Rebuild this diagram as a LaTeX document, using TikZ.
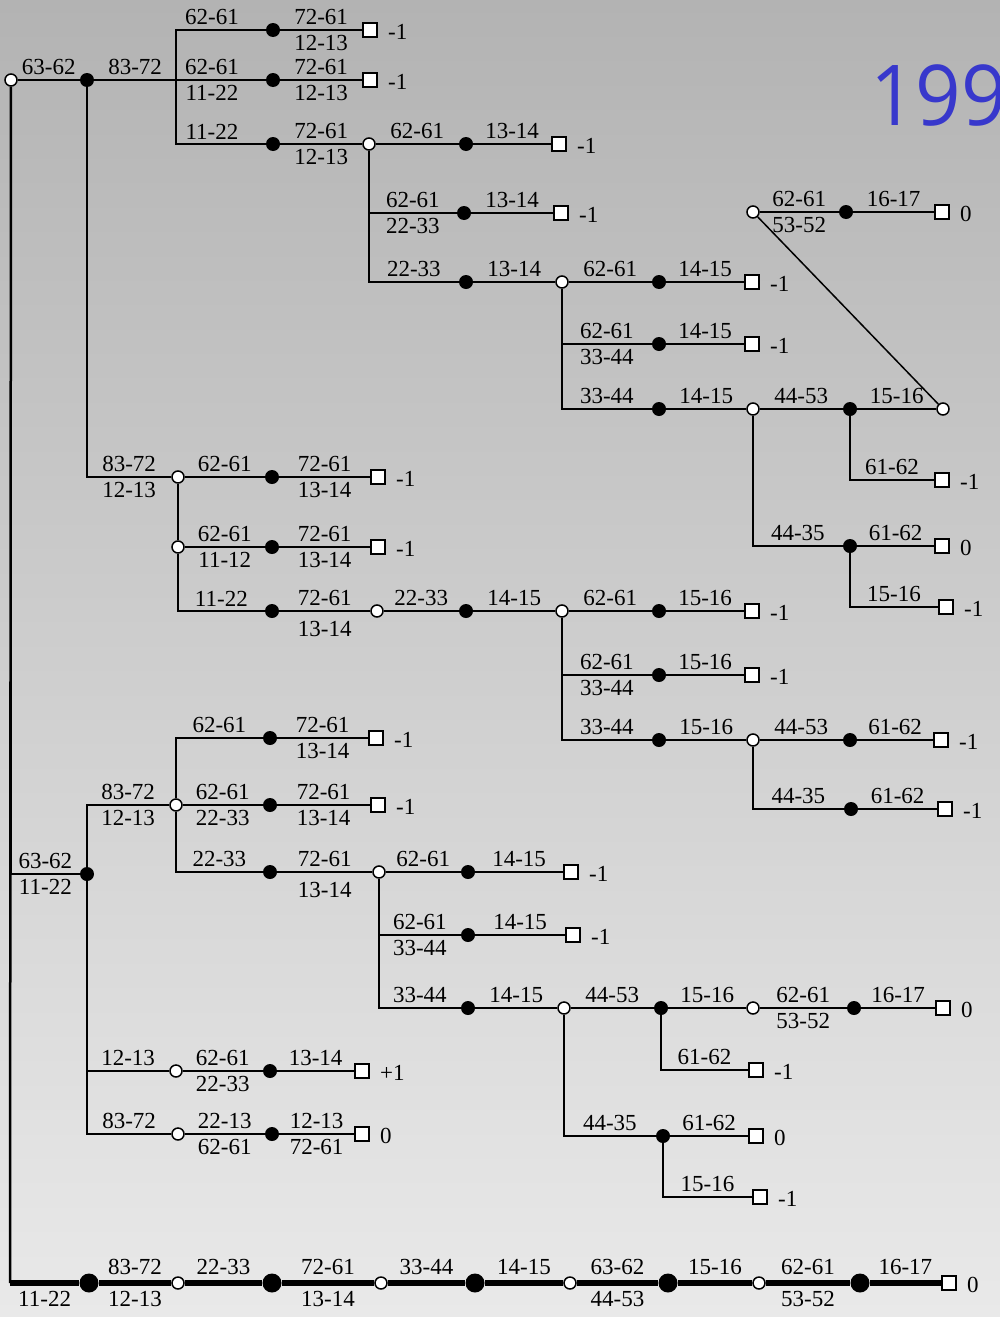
\documentclass[tikz,border=0pt]{standalone}
\usepackage{fontspec}
\setmainfont{Liberation Serif}
\newfontfamily\numfont[FakeStretch=0.95]{Open Sans}
\definecolor{bgtop}{RGB}{179,179,179}
\definecolor{bgbot}{RGB}{233,233,233}
\definecolor{numblue}{RGB}{56,56,204}
\newcommand\lf[3]{\node[leaf] (#1) at (#2) {}; \node[val] (#1v) at ([xshift=10pt,yshift=-2pt]#1.east) {#3};}
\begin{document}
\begin{tikzpicture}[x=1pt,y=-1pt,
  every node/.style={font=\fontsize{23}{23}\selectfont},
  fdot/.style={circle,fill=black,inner sep=0pt,minimum size=14pt},
  bdot/.style={circle,fill=black,inner sep=0pt,minimum size=19pt},
  odot/.style={circle,draw=black,fill=white,line width=1.5pt,inner sep=0pt,minimum size=12pt},
  leaf/.style={rectangle,draw=black,fill=white,line width=1.8pt,inner sep=0pt,minimum size=14pt},
  val/.style={anchor=west,inner sep=0pt},
  ab/.style={above=4pt,inner sep=0pt},
  bl/.style={below=4pt,inner sep=0pt},
  blx/.style={below=9pt,inner sep=0pt},
  abT/.style={above=6pt,inner sep=0pt},
  blT/.style={below=6pt,inner sep=0pt},
  ln/.style={line width=2pt},
  thk/.style={line width=5.5pt},
]
\useasboundingbox (0,0) rectangle (1000,1317);
\shade[top color=bgtop, bottom color=bgbot] (0,0) rectangle (1000,1317);

\node[anchor=base west, inner sep=0pt, text=numblue, font=\numfont\fontsize{84}{84}\selectfont] (yr) at (870,125) {199};

% ---------- section 1
\node[odot] (r0) at (11,80) {};
\node[fdot] (a1) at (87,80) {};
\coordinate (j1) at (176,80);
\node[fdot] (n1) at (273,30) {};
\node[fdot] (n2) at (273,80) {};
\node[fdot] (n3) at (273,144) {};
\lf{s1}{370,30}{-1}
\lf{s2}{370,80}{-1}
\node[odot] (b1) at (369,144) {};
\node[fdot] (n4) at (466,144) {};
\lf{s3}{559,144}{-1}
\node[fdot] (n5) at (464,213) {};
\lf{s4}{561,213}{-1}
\node[fdot] (n6) at (466,282) {};
\node[odot] (c1) at (562,282) {};
\node[fdot] (n7) at (659,282) {};
\lf{s5}{752,282}{-1}
\node[fdot] (n8) at (659,344) {};
\lf{s6}{752,344}{-1}
\node[fdot] (n9) at (659,409) {};
\node[odot] (d1) at (753,409) {};
\node[fdot] (e1) at (850,409) {};
\node[odot] (f1) at (943,409) {};
\node[odot] (g1) at (753,212) {};
\node[fdot] (n10) at (846,212) {};
\lf{s7}{942,212}{0}
\lf{s8}{942,480}{-1}
\node[fdot] (h1) at (850,546) {};
\lf{s9}{942,546}{0}
\lf{s10}{946,607}{-1}

% ---------- section 2
\node[odot] (i1) at (178,477) {};
\node[fdot] (n11) at (272,477) {};
\lf{s11}{378,477}{-1}
\node[odot] (i2) at (178,547) {};
\node[fdot] (n12) at (272,547) {};
\lf{s12}{378,547}{-1}
\node[fdot] (n13) at (272,611) {};
\node[odot] (k1) at (377,611) {};
\node[fdot] (n14) at (466,611) {};
\node[odot] (l1) at (562,611) {};
\node[fdot] (n15) at (659,611) {};
\lf{s13}{752,611}{-1}
\node[fdot] (n16) at (659,675) {};
\lf{s14}{752,675}{-1}
\node[fdot] (n17) at (659,740) {};
\node[odot] (m1) at (753,740) {};
\node[fdot] (n18) at (850,740) {};
\lf{s15}{941,740}{-1}
\node[fdot] (n19) at (851,809) {};
\lf{s16}{945,809}{-1}

% ---------- section 3
\node[fdot] (p0) at (87,874) {};
\node[odot] (p1) at (176,805) {};
\node[fdot] (n20) at (270,738) {};
\lf{s17}{376,738}{-1}
\node[fdot] (n21) at (270,805) {};
\lf{s18}{378,805}{-1}
\node[fdot] (n22) at (270,872) {};
\node[odot] (q1) at (379,872) {};
\node[fdot] (n23) at (468,872) {};
\lf{s19}{571,872}{-1}
\node[fdot] (n24) at (468,935) {};
\lf{s20}{573,935}{-1}
\node[fdot] (n25) at (468,1008) {};
\node[odot] (r1) at (564,1008) {};
\node[fdot] (n26) at (661,1008) {};
\node[odot] (t1) at (753,1008) {};
\node[fdot] (n27) at (854,1008) {};
\lf{s21}{943,1008}{0}
\lf{s22}{756,1070}{-1}
\node[fdot] (n28) at (663,1136) {};
\lf{s23}{756,1136}{0}
\lf{s24}{760,1197}{-1}
\node[odot] (p2) at (176,1071) {};
\node[fdot] (n29) at (270,1071) {};
\lf{s25}{362,1071}{+1}
\node[odot] (p3) at (178,1134) {};
\node[fdot] (n30) at (272,1134) {};
\lf{s26}{362,1134}{0}

% ---------- bottom line
\coordinate (zc) at (10,1283);
\node[bdot] (z1) at (89,1283) {};
\node[odot] (z2) at (178,1283) {};
\node[bdot] (z3) at (272,1283) {};
\node[odot] (z4) at (381,1283) {};
\node[bdot] (z5) at (475,1283) {};
\node[odot] (z6) at (570,1283) {};
\node[bdot] (z7) at (668,1283) {};
\node[odot] (z8) at (759,1283) {};
\node[bdot] (z9) at (860,1283) {};
\lf{z10}{949,1283}{0}

% ---------- connectors section 1
\draw[ln] (r0) -- node[ab]{63-62} (a1);
\draw[ln] (a1) -- node[ab]{83-72} (j1) -- node[ab,pos=.4]{62-61} node[bl,pos=.4]{11-22} (n2);
\draw[ln] (j1) |- node[ab,pos=.7]{62-61} (n1);
\draw[ln] (j1) |- node[ab,pos=.7]{11-22} (n3);
\draw[ln] (n1) -- node[ab]{72-61} node[bl]{12-13} (s1);
\draw[ln] (n2) -- node[ab]{72-61} node[bl]{12-13} (s2);
\draw[ln] (n3) -- node[ab]{72-61} node[bl]{12-13} (b1);
\draw[ln] (b1) -- node[ab]{62-61} (n4) -- node[ab]{13-14} (s3);
\draw[ln] (b1) |- node[ab,pos=.75]{62-61} node[bl,pos=.75]{22-33} (n5);
\draw[ln] (n5) -- node[ab]{13-14} (s4);
\draw[ln] (b1) |- node[ab,pos=.75]{22-33} (n6);
\draw[ln] (n6) -- node[ab]{13-14} (c1);
\draw[ln] (c1) -- node[ab]{62-61} (n7) -- node[ab]{14-15} (s5);
\draw[ln] (c1) |- node[ab,pos=.75]{62-61} node[bl,pos=.75]{33-44} (n8);
\draw[ln] (n8) -- node[ab]{14-15} (s6);
\draw[ln] (c1) |- node[ab,pos=.75]{33-44} (n9);
\draw[ln] (n9) -- node[ab]{14-15} (d1);
\draw[ln] (d1) -- node[ab]{44-53} (e1) -- node[ab]{15-16} (f1);
\draw[line width=1.5pt] (f1) -- (g1);
\draw[ln] (g1) -- node[ab]{62-61} node[bl]{53-52} (n10) -- node[ab]{16-17} (s7);
\draw[ln] (e1) |- node[ab,pos=.75]{61-62} (s8);
\draw[ln] (d1) |- node[ab,pos=.75]{44-35} (h1);
\draw[ln] (h1) -- node[ab]{61-62} (s9);
\draw[ln] (h1) |- node[ab,pos=.75]{15-16} (s10);

% ---------- connectors section 2
\draw[ln] (a1) |- node[ab,pos=.75]{83-72} node[bl,pos=.75]{12-13} (i1);
\draw[ln] (i1) -- node[ab]{62-61} (n11) -- node[ab]{72-61} node[bl]{13-14} (s11);
\draw[ln] (i1) -- (i2);
\draw[ln] (i2) -- node[ab]{62-61} node[bl]{11-12} (n12) -- node[ab]{72-61} node[bl]{13-14} (s12);
\draw[ln] (i2) |- node[ab,pos=.75]{11-22} (n13);
\draw[ln] (n13) -- node[ab]{72-61} node[blx]{13-14} (k1) -- node[ab]{22-33} (n14) -- node[ab]{14-15} (l1);
\draw[ln] (l1) -- node[ab]{62-61} (n15) -- node[ab]{15-16} (s13);
\draw[ln] (l1) |- node[ab,pos=.75]{62-61} node[bl,pos=.75]{33-44} (n16);
\draw[ln] (n16) -- node[ab]{15-16} (s14);
\draw[ln] (l1) |- node[ab,pos=.75]{33-44} (n17);
\draw[ln] (n17) -- node[ab]{15-16} (m1);
\draw[ln] (m1) -- node[ab]{44-53} (n18) -- node[ab]{61-62} (s15);
\draw[ln] (m1) |- node[ab,pos=.75]{44-35} (n19);
\draw[ln] (n19) -- node[ab]{61-62} (s16);

% ---------- connectors section 3
\draw[ln] (r0) |- node[ab,pos=.75]{63-62} node[bl,pos=.75]{11-22} (p0);
\draw[ln] (p0) |- node[ab,pos=.75]{83-72} node[bl,pos=.75]{12-13} (p1);
\draw[ln] (p1) |- node[ab,pos=.75]{62-61} (n20);
\draw[ln] (n20) -- node[ab]{72-61} node[bl]{13-14} (s17);
\draw[ln] (p1) -- node[ab]{62-61} node[bl]{22-33} (n21) -- node[ab]{72-61} node[bl]{13-14} (s18);
\draw[ln] (p1) |- node[ab,pos=.75]{22-33} (n22);
\draw[ln] (n22) -- node[ab]{72-61} node[blx]{13-14} (q1);
\draw[ln] (q1) -- node[ab]{62-61} (n23) -- node[ab]{14-15} (s19);
\draw[ln] (q1) |- node[ab,pos=.75]{62-61} node[bl,pos=.75]{33-44} (n24);
\draw[ln] (n24) -- node[ab]{14-15} (s20);
\draw[ln] (q1) |- node[ab,pos=.75]{33-44} (n25);
\draw[ln] (n25) -- node[ab]{14-15} (r1);
\draw[ln] (r1) -- node[ab]{44-53} (n26) -- node[ab]{15-16} (t1) -- node[ab]{62-61} node[bl]{53-52} (n27) -- node[ab]{16-17} (s21);
\draw[ln] (n26) |- node[ab,pos=.75]{61-62} (s22);
\draw[ln] (r1) |- node[ab,pos=.75]{44-35} (n28);
\draw[ln] (n28) -- node[ab]{61-62} (s23);
\draw[ln] (n28) |- node[ab,pos=.75]{15-16} (s24);
\draw[ln] (p0) |- node[ab,pos=.75]{12-13} (p2);
\draw[ln] (p2) -- node[ab]{62-61} node[bl]{22-33} (n29) -- node[ab]{13-14} (s25);
\draw[ln] (p0) |- node[ab,pos=.75]{83-72} (p3);
\draw[ln] (p3) -- node[ab]{22-13} node[bl]{62-61} (n30) -- node[ab]{12-13} node[bl]{72-61} (s26);

% ---------- bottom
\draw[line width=2.5pt] (r0) -- (zc);
\draw[thk] (zc) -- node[blT]{11-22} (z1) -- node[abT]{83-72} node[blT]{12-13} (z2)
  -- node[abT]{22-33} (z3) -- node[abT]{72-61} node[blT]{13-14} (z4)
  -- node[abT]{33-44} (z5) -- node[abT]{14-15} (z6)
  -- node[abT]{63-62} node[blT]{44-53} (z7) -- node[abT]{15-16} (z8)
  -- node[abT]{62-61} node[blT]{53-52} (z9) -- node[abT]{16-17} (z10);
\end{tikzpicture}
\end{document}
